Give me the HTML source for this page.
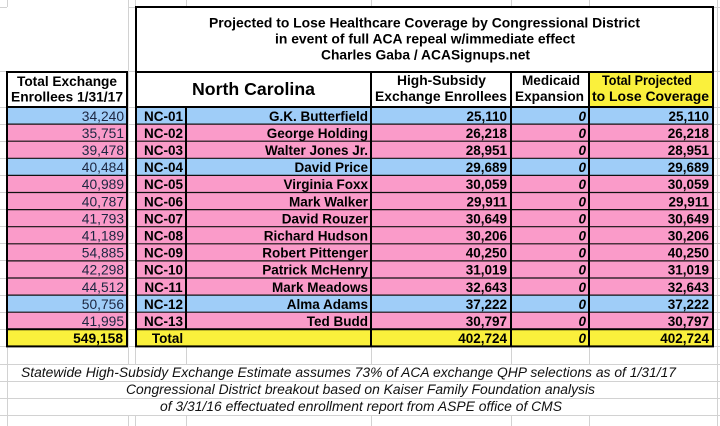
<!DOCTYPE html>
<html><head><meta charset="utf-8"><style>
html,body{margin:0;padding:0;background:#fff;}
svg{display:block;}
</style></head><body>
<svg width="720" height="426" xmlns="http://www.w3.org/2000/svg" font-family="'Liberation Sans', Arial, sans-serif">
<rect width="720" height="426" fill="#fff"/>
<!-- spreadsheet grid -->
<g stroke="#d2d2d2" stroke-width="1">
<line x1="7.5" y1="0" x2="7.5" y2="426"/>
<line x1="717.5" y1="0" x2="717.5" y2="426"/>
<line x1="128.5" y1="0" x2="128.5" y2="364"/><line x1="128.5" y1="415" x2="128.5" y2="426"/>
<line x1="135.5" y1="0" x2="135.5" y2="364"/><line x1="135.5" y1="415" x2="135.5" y2="426"/>
<line x1="186.5" y1="0" x2="186.5" y2="364"/><line x1="186.5" y1="415" x2="186.5" y2="426"/>
<line x1="371.5" y1="0" x2="371.5" y2="364"/><line x1="371.5" y1="415" x2="371.5" y2="426"/>
<line x1="511.5" y1="0" x2="511.5" y2="364"/><line x1="511.5" y1="415" x2="511.5" y2="426"/>
<line x1="589.5" y1="0" x2="589.5" y2="364"/><line x1="589.5" y1="415" x2="589.5" y2="426"/>
<line x1="0" y1="7.5" x2="720" y2="7.5"/>
<line x1="0" y1="71.5" x2="720" y2="71.5"/>
<line x1="0" y1="107.5" x2="720" y2="107.5"/>
<line x1="0" y1="124.5" x2="720" y2="124.5"/>
<line x1="0" y1="141.5" x2="720" y2="141.5"/>
<line x1="0" y1="158.5" x2="720" y2="158.5"/>
<line x1="0" y1="175.5" x2="720" y2="175.5"/>
<line x1="0" y1="192.5" x2="720" y2="192.5"/>
<line x1="0" y1="209.5" x2="720" y2="209.5"/>
<line x1="0" y1="226.5" x2="720" y2="226.5"/>
<line x1="0" y1="243.5" x2="720" y2="243.5"/>
<line x1="0" y1="260.5" x2="720" y2="260.5"/>
<line x1="0" y1="278.5" x2="720" y2="278.5"/>
<line x1="0" y1="295.5" x2="720" y2="295.5"/>
<line x1="0" y1="312.5" x2="720" y2="312.5"/>
<line x1="0" y1="329.5" x2="720" y2="329.5"/>
<line x1="0" y1="346.5" x2="720" y2="346.5"/>
<line x1="0" y1="364.5" x2="720" y2="364.5"/>
<line x1="0" y1="381.5" x2="720" y2="381.5"/>
<line x1="0" y1="398.5" x2="720" y2="398.5"/>
<line x1="0" y1="415.5" x2="720" y2="415.5"/>
</g>

<!-- fills -->
<rect x="7" y="7" width="121" height="64" fill="#fff"/>
<rect x="7" y="72" width="120" height="35" fill="#fff"/>
<rect x="136" y="7" width="577" height="100" fill="#fff"/>
<rect x="589" y="72" width="124" height="35" fill="#faf03c"/>

<g>
<!-- rows: left fills -->
<rect x="7" y="107" width="120" height="17.1" fill="#9fcdf8"/>
<rect x="7" y="124.1" width="120" height="34.2" fill="#fa9bc9"/>
<rect x="7" y="158.3" width="120" height="17.1" fill="#9fcdf8"/>
<rect x="7" y="175.4" width="120" height="119.7" fill="#fa9bc9"/>
<rect x="7" y="295.1" width="120" height="17.1" fill="#9fcdf8"/>
<rect x="7" y="312.2" width="120" height="17.1" fill="#fa9bc9"/>
<rect x="7" y="329.3" width="120" height="17.1" fill="#faf03c"/>
<!-- table fills -->
<rect x="136" y="107" width="577" height="17.1" fill="#9fcdf8"/>
<rect x="136" y="124.1" width="577" height="34.2" fill="#fa9bc9"/>
<rect x="136" y="158.3" width="577" height="17.1" fill="#9fcdf8"/>
<rect x="136" y="175.4" width="577" height="119.7" fill="#fa9bc9"/>
<rect x="136" y="295.1" width="577" height="17.1" fill="#9fcdf8"/>
<rect x="136" y="312.2" width="577" height="17.1" fill="#fa9bc9"/>
<rect x="136" y="329.3" width="577" height="17.1" fill="#faf03c"/>
</g>

<!-- thin row dividers -->
<g stroke="#111" stroke-width="1.2">
<line x1="7" y1="124.1" x2="128" y2="124.1"/><line x1="136" y1="124.1" x2="713" y2="124.1"/>
<line x1="7" y1="141.2" x2="128" y2="141.2"/><line x1="136" y1="141.2" x2="713" y2="141.2"/>
<line x1="7" y1="158.3" x2="128" y2="158.3"/><line x1="136" y1="158.3" x2="713" y2="158.3"/>
<line x1="7" y1="175.4" x2="128" y2="175.4"/><line x1="136" y1="175.4" x2="713" y2="175.4"/>
<line x1="7" y1="192.5" x2="128" y2="192.5"/><line x1="136" y1="192.5" x2="713" y2="192.5"/>
<line x1="7" y1="209.6" x2="128" y2="209.6"/><line x1="136" y1="209.6" x2="713" y2="209.6"/>
<line x1="7" y1="226.7" x2="128" y2="226.7"/><line x1="136" y1="226.7" x2="713" y2="226.7"/>
<line x1="7" y1="243.8" x2="128" y2="243.8"/><line x1="136" y1="243.8" x2="713" y2="243.8"/>
<line x1="7" y1="260.9" x2="128" y2="260.9"/><line x1="136" y1="260.9" x2="713" y2="260.9"/>
<line x1="7" y1="278" x2="128" y2="278"/><line x1="136" y1="278" x2="713" y2="278"/>
<line x1="7" y1="295.1" x2="128" y2="295.1"/><line x1="136" y1="295.1" x2="713" y2="295.1"/>
<line x1="7" y1="312.2" x2="128" y2="312.2"/><line x1="136" y1="312.2" x2="713" y2="312.2"/>
</g>

<!-- thick borders -->
<g stroke="#000" stroke-width="2" fill="none">
<rect x="7" y="72" width="120" height="274.4"/>
<line x1="7" y1="107" x2="127" y2="107"/>
<line x1="7" y1="329.3" x2="127" y2="329.3"/>
<rect x="136" y="7" width="577" height="339.4"/>
<line x1="136" y1="72" x2="713" y2="72"/>
<line x1="136" y1="107" x2="713" y2="107"/>
<line x1="136" y1="329.3" x2="713" y2="329.3"/>
<line x1="186" y1="107" x2="186" y2="329.3"/>
<line x1="371" y1="72" x2="371" y2="346.4"/>
<line x1="511" y1="72" x2="511" y2="346.4"/>
<line x1="589" y1="72" x2="589" y2="346.4"/>
</g>

<!-- title -->
<g font-weight="bold" font-size="13.8" fill="#000" text-anchor="middle">
<text x="424.5" y="27.5" textLength="431" lengthAdjust="spacingAndGlyphs">Projected to Lose Healthcare Coverage by Congressional District</text>
<text x="425" y="43.5" textLength="300" lengthAdjust="spacingAndGlyphs">in event of full ACA repeal w/immediate effect</text>
<text x="425.5" y="59.5" textLength="209" lengthAdjust="spacingAndGlyphs">Charles Gaba / ACASignups.net</text>
</g>

<!-- headers -->
<g font-weight="bold" font-size="13.8" fill="#000" text-anchor="middle">
<text x="67" y="86" textLength="100" lengthAdjust="spacingAndGlyphs">Total Exchange</text>
<text x="67" y="101.5" textLength="112" lengthAdjust="spacingAndGlyphs">Enrollees 1/31/17</text>
<text x="253.5" y="95" font-size="17.7" textLength="123" lengthAdjust="spacingAndGlyphs">North Carolina</text>
<text x="441.5" y="85" textLength="89" lengthAdjust="spacingAndGlyphs">High-Subsidy</text>
<text x="441" y="101" textLength="132" lengthAdjust="spacingAndGlyphs">Exchange Enrollees</text>
<text x="551" y="85" textLength="58" lengthAdjust="spacingAndGlyphs">Medicaid</text>
<text x="549.5" y="101" textLength="69" lengthAdjust="spacingAndGlyphs">Expansion</text>
<text x="647" y="85" textLength="90" lengthAdjust="spacingAndGlyphs">Total Projected</text>
<text x="650.5" y="101" textLength="117" lengthAdjust="spacingAndGlyphs">to Lose Coverage</text>
</g>

<!-- left numbers -->
<g font-size="13.8" fill="#1c2640" text-anchor="end">
<text x="124" y="120.8">34,240</text>
<text x="124" y="137.9">35,751</text>
<text x="124" y="155">39,478</text>
<text x="124" y="172.1">40,484</text>
<text x="124" y="189.2">40,989</text>
<text x="124" y="206.3">40,787</text>
<text x="124" y="223.4">41,793</text>
<text x="124" y="240.5">41,189</text>
<text x="124" y="257.6">54,885</text>
<text x="124" y="274.7">42,298</text>
<text x="124" y="291.8">44,512</text>
<text x="124" y="308.9">50,756</text>
<text x="124" y="326">41,995</text>
<text x="123" y="343.1" font-weight="bold" fill="#000">549,158</text>
</g>

<!-- NC labels -->
<g font-size="13.5" font-weight="bold" fill="#000" text-anchor="middle">
<text x="163.5" y="120.8">NC-01</text>
<text x="163.5" y="137.9">NC-02</text>
<text x="163.5" y="155">NC-03</text>
<text x="163.5" y="172.1">NC-04</text>
<text x="163.5" y="189.2">NC-05</text>
<text x="163.5" y="206.3">NC-06</text>
<text x="163.5" y="223.4">NC-07</text>
<text x="163.5" y="240.5">NC-08</text>
<text x="163.5" y="257.6">NC-09</text>
<text x="163.5" y="274.7">NC-10</text>
<text x="163.5" y="291.8">NC-11</text>
<text x="163.5" y="308.9">NC-12</text>
<text x="163.5" y="326">NC-13</text>
<text x="167.5" y="343.1">Total</text>
</g>

<!-- names -->
<g font-size="13.5" font-weight="bold" fill="#000" text-anchor="end">
<text x="368" y="120.8">G.K. Butterfield</text>
<text x="368" y="137.9">George Holding</text>
<text x="368" y="155">Walter Jones Jr.</text>
<text x="368" y="172.1">David Price</text>
<text x="368" y="189.2">Virginia Foxx</text>
<text x="368" y="206.3">Mark Walker</text>
<text x="368" y="223.4">David Rouzer</text>
<text x="368" y="240.5">Richard Hudson</text>
<text x="368" y="257.6">Robert Pittenger</text>
<text x="368" y="274.7">Patrick McHenry</text>
<text x="368" y="291.8">Mark Meadows</text>
<text x="368" y="308.9">Alma Adams</text>
<text x="368" y="326">Ted Budd</text>
</g>

<!-- high subsidy -->
<g font-size="13.5" font-weight="bold" fill="#000" text-anchor="end">
<text x="507" y="120.8">25,110</text>
<text x="507" y="137.9">26,218</text>
<text x="507" y="155">28,951</text>
<text x="507" y="172.1">29,689</text>
<text x="507" y="189.2">30,059</text>
<text x="507" y="206.3">29,911</text>
<text x="507" y="223.4">30,649</text>
<text x="507" y="240.5">30,206</text>
<text x="507" y="257.6">40,250</text>
<text x="507" y="274.7">31,019</text>
<text x="507" y="291.8">32,643</text>
<text x="507" y="308.9">37,222</text>
<text x="507" y="326">30,797</text>
<text x="507" y="343.1">402,724</text>
</g>

<!-- medicaid -->
<g font-size="13.5" font-weight="bold" font-style="italic" fill="#000" text-anchor="end">
<text x="586" y="120.8">0</text>
<text x="586" y="137.9">0</text>
<text x="586" y="155">0</text>
<text x="586" y="172.1">0</text>
<text x="586" y="189.2">0</text>
<text x="586" y="206.3">0</text>
<text x="586" y="223.4">0</text>
<text x="586" y="240.5">0</text>
<text x="586" y="257.6">0</text>
<text x="586" y="274.7">0</text>
<text x="586" y="291.8">0</text>
<text x="586" y="308.9">0</text>
<text x="586" y="326">0</text>
<text x="586" y="343.1">0</text>
</g>

<!-- total projected -->
<g font-size="13.5" font-weight="bold" fill="#000" text-anchor="end">
<text x="709" y="120.8">25,110</text>
<text x="709" y="137.9">26,218</text>
<text x="709" y="155">28,951</text>
<text x="709" y="172.1">29,689</text>
<text x="709" y="189.2">30,059</text>
<text x="709" y="206.3">29,911</text>
<text x="709" y="223.4">30,649</text>
<text x="709" y="240.5">30,206</text>
<text x="709" y="257.6">40,250</text>
<text x="709" y="274.7">31,019</text>
<text x="709" y="291.8">32,643</text>
<text x="709" y="308.9">37,222</text>
<text x="709" y="326">30,797</text>
<text x="709" y="343.1">402,724</text>
</g>

<!-- footnotes -->
<g font-size="13.5" font-style="italic" fill="#111">
<text x="21" y="377" textLength="655" lengthAdjust="spacingAndGlyphs">Statewide High-Subsidy Exchange Estimate assumes 73% of ACA exchange QHP selections as of 1/31/17</text>
<text x="126" y="394" textLength="469" lengthAdjust="spacingAndGlyphs">Congressional District breakout based on Kaiser Family Foundation analysis</text>
<text x="160" y="411" textLength="402" lengthAdjust="spacingAndGlyphs">of 3/31/16 effectuated enrollment report from ASPE office of CMS</text>
</g>
</svg>
</body></html>
